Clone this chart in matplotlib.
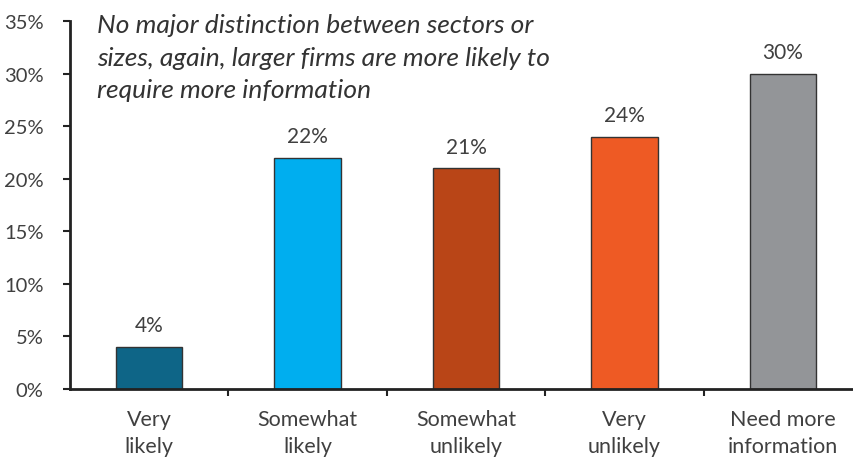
import matplotlib
matplotlib.use("Agg")
import matplotlib.pyplot as plt

categories = ["Very\nlikely", "Somewhat\nlikely", "Somewhat\nunlikely", "Very\nunlikely", "Need more\ninformation"]
shares = [4, 22, 21, 24, 30]
colors = ["#0e6587", "#00aeef", "#b94517", "#ee5a24", "#939598"]
y_ticks = [0, 5, 10, 15, 20, 25, 30, 35]
note = ("No major distinction between sectors or\n"
        "sizes, again, larger firms are more likely to\n"
        "require more information")

plt.rcParams["font.family"] = ["Lato", "DejaVu Sans"]
text_col = "#404040"

fig = plt.figure(figsize=(8.54, 4.6), dpi=100)
ax = fig.add_axes([70 / 854, 70 / 460, 792 / 854, 368 / 460])

x = range(len(categories))
bars = ax.bar(x, shares, width=0.42, color=colors, edgecolor="#333333", linewidth=1)
for b, v in zip(bars, shares):
    ax.text(b.get_x() + b.get_width() / 2, v + 1.1, f"{v}%", ha="center", va="bottom",
            fontsize=15, color=text_col)

ax.set_xlim(-0.5, 4.5)
ax.set_ylim(0, 35)
ax.set_yticks(y_ticks)
ax.set_yticklabels([f"{t}%" for t in y_ticks], fontsize=14.5, color=text_col)
ax.tick_params(axis="y", direction="out", length=5, width=1.5, color="#222222", pad=14)

# category labels sit in the middle, tick marks between categories
ax.set_xticks([i + 0.5 for i in range(len(categories) - 1)])
ax.set_xticklabels([])
ax.tick_params(axis="x", direction="out", length=5, width=1.5, color="#222222")
for i, c in enumerate(categories):
    ax.text(i, -1.9, c, ha="center", va="top", fontsize=15.5, color=text_col,
            linespacing=1.45)

for s in ["top", "right"]:
    ax.spines[s].set_visible(False)
for s in ["left", "bottom"]:
    ax.spines[s].set_linewidth(2)
    ax.spines[s].set_color("#222222")

fig.text(97 / 854, 1 - 14 / 460, note, ha="left", va="top", fontsize=19, style="italic",
         color="#333333", linespacing=1.5)

fig.savefig("out.png", dpi=100)
